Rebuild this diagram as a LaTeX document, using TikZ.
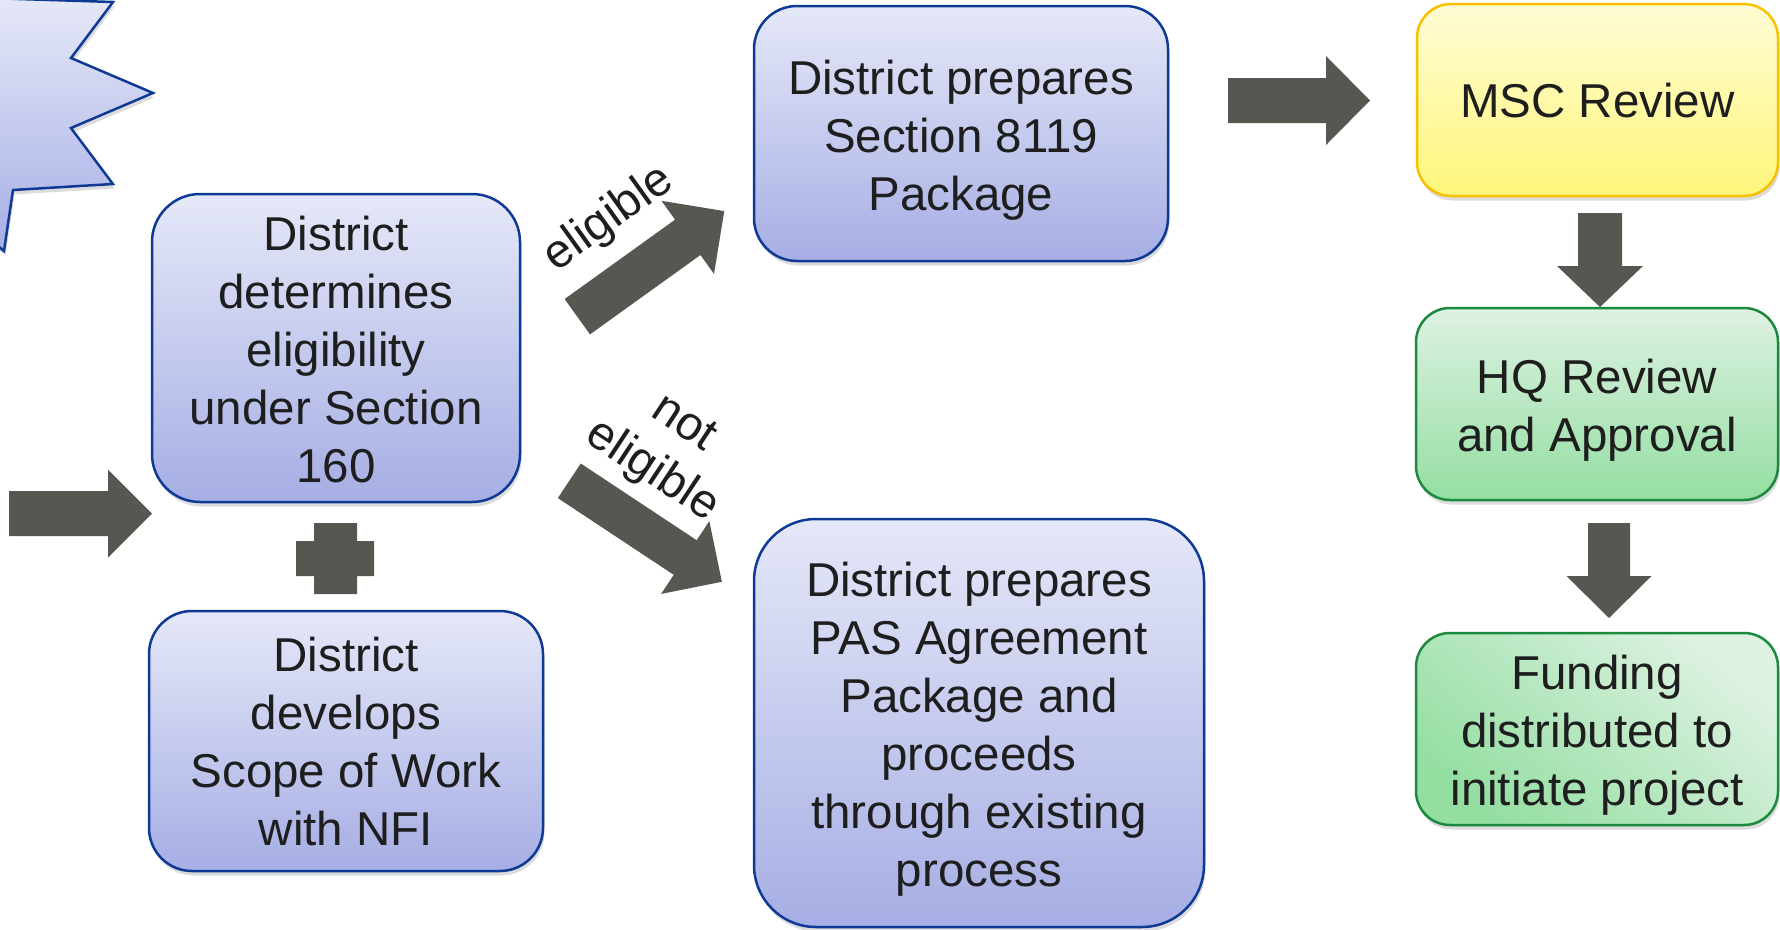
\documentclass[tikz,border=0pt]{standalone}
\usepackage{fontspec}
\setmainfont{Liberation Sans}
\usetikzlibrary{shadows}
\definecolor{bluetop}{RGB}{229,232,248}
\definecolor{bluebot}{RGB}{166,174,228}
\definecolor{blueborder}{RGB}{14,58,150}
\definecolor{yellowtop}{RGB}{255,252,214}
\definecolor{yellowbot}{RGB}{255,246,122}
\definecolor{yellowborder}{RGB}{250,192,0}
\definecolor{greentop}{RGB}{222,242,226}
\definecolor{greenbot}{RGB}{148,222,162}
\definecolor{greenborder}{RGB}{28,138,62}
\definecolor{arrowfill}{RGB}{85,88,80}
\definecolor{txt}{RGB}{30,30,30}
\newcommand\blockarrow[6]{%
  \begin{scope}[shift={#1},rotate=#2]
    \fill[arrowfill] (0,-#4) -- ({#3-#6},-#4) -- ({#3-#6},-#5) -- (#3,0)
      -- ({#3-#6},#5) -- ({#3-#6},#4) -- (0,#4) -- cycle;
  \end{scope}}
\tikzset{
  boxtext/.style={font=\fontsize{47.5}{58}\selectfont, text=txt, align=center, inner sep=0pt},
  softshadow/.style={drop shadow={opacity=0.28, shadow xshift=1.5pt, shadow yshift=-4.5pt}},
  basebox/.style={line width=2.5pt, softshadow, inner sep=0pt},
  bluebox/.style={basebox, draw=blueborder, top color=bluetop, bottom color=bluebot},
  yellowbox/.style={basebox, draw=yellowborder, top color=yellowtop, bottom color=yellowbot},
  greenbox/.style={basebox, draw=greenborder, top color=greentop, bottom color=greenbot},
  fundbox/.style={basebox, draw=greenborder, top color=greentop, bottom color=greenbot, shading angle=-40},
  lbl/.style={font=\fontsize{47.5}{57}\selectfont, text=txt, align=center, inner sep=0pt},
  starburst/.style={draw=blueborder, line width=2.5pt, line join=miter, top color=bluetop, bottom color=bluebot, softshadow}
}
\begin{document}
\begin{tikzpicture}[x=1pt,y=-1pt]
\useasboundingbox (0,0) rectangle (1780,929);
\clip (0,0) rectangle (1780,929);
% starburst (cut off at the corner)
\path[starburst] (-10,-1.9) -- (113,2) -- (71,58) -- (153,93) -- (71,128) -- (113,184)
  -- (13,190) -- (4,251) -- (-40,215) -- cycle;
% boxes
\node[bluebox, rounded corners=48pt, minimum width=368pt, minimum height=308pt] (b1) at (336,348) {};
\node[bluebox, rounded corners=43pt, minimum width=394pt, minimum height=260pt] (b2) at (346,741) {};
\node[bluebox, rounded corners=43pt, minimum width=414pt, minimum height=255pt] (b3) at (961,133.5) {};
\node[bluebox, rounded corners=62pt, minimum width=450pt, minimum height=408pt] (b4) at (979,723) {};
\node[yellowbox, rounded corners=34pt, minimum width=361pt, minimum height=192pt] (msc) at (1597.5,100) {};
\node[greenbox, rounded corners=34pt, minimum width=362pt, minimum height=192pt] (hq) at (1597,404) {};
\node[fundbox, rounded corners=34pt, minimum width=362pt, minimum height=192pt] (fund) at (1597,729) {};
% box texts
\node[boxtext] (t1) at ([yshift=-2pt]b1.center) {District\\determines\\eligibility\\under Section\\160};
\node[boxtext] (t2) at (b2.center) {District\\develops\\Scope of Work\\with NFI};
\node[boxtext] (t3) at ([yshift=-6.5pt]b3.center) {District prepares\\Section 8119\\Package};
\node[boxtext] (t4) at ([yshift=-6.5pt]b4.center) {District prepares\\PAS Agreement\\Package and\\proceeds\\through existing\\process};
\node[boxtext] (tm) at ([yshift=-1pt]msc.center) {MSC Review};
\node[boxtext] (th) at ([yshift=-6pt]hq.center) {HQ Review\\and Approval};
\node[boxtext] (tf) at ([yshift=-6.5pt]fund.center) {Funding\\distributed to\\initiate project};
% plus sign
\fill[arrowfill] (314,523) -- (357,523) -- (357,541) -- (374,541) -- (374,576) -- (357,576)
  -- (357,594) -- (314,594) -- (314,576) -- (296,576) -- (296,541) -- (314,541) -- cycle;
% block arrows
\coordinate (aIn) at (9,513.5);
\coordinate (aElig) at (577.3,316.7);
\coordinate (aNot) at (569.3,480.8);
\coordinate (aMsc) at (1228,100.5);
\coordinate (aHq) at (1600,213);
\coordinate (aFund) at (1609,523);
\blockarrow{(aIn)}{0}{143}{22.5}{44}{44}
\blockarrow{(aElig)}{35.7}{181}{21.75}{45}{45}
\blockarrow{(aNot)}{-33.5}{183}{20.75}{43.7}{44}
\blockarrow{(aMsc)}{0}{142}{22.5}{44.5}{44}
\blockarrow{(aHq)}{-90}{94}{22}{43}{41}
\blockarrow{(aFund)}{-90}{95}{21}{42.5}{42}
% labels
\node[lbl, rotate=35.7] (lelig) at (609,219) {eligible};
\node[lbl, rotate=-33.5] (lnot) at (667,449) {not\\eligible};
\end{tikzpicture}
\end{document}
